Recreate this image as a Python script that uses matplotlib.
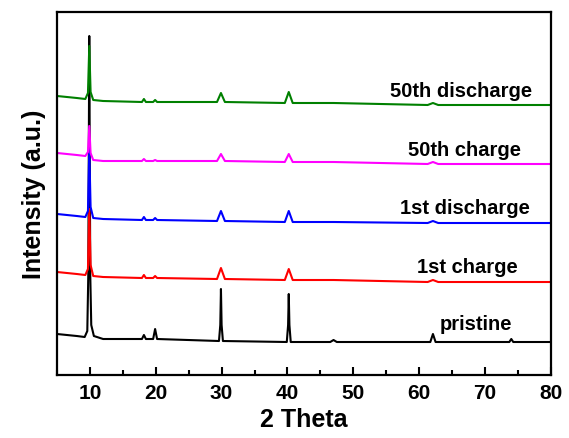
import numpy as np
import matplotlib
matplotlib.use('Agg')
import matplotlib.pyplot as plt
from matplotlib.ticker import MultipleLocator

plt.rcParams['font.family'] = ['Liberation Sans', 'DejaVu Sans']
plt.rcParams['font.weight'] = 'bold'

# XRD patterns (2 theta, stacked intensity in a.u.)
pristine_x = [5, 8, 9.2, 9.6, 9.75, 9.9, 10.05, 10.2, 10.6, 12, 17.9, 18.2, 18.5, 19.6, 19.9, 20.2,
              29.6, 29.8, 29.9, 30.0, 30.2, 39.9, 40.1, 40.2, 40.3, 40.5, 46.5, 47, 47.5,
              61.7, 62.1, 62.5, 73.7, 74.0, 74.3, 80]
pristine_y = [41, 39, 38, 44, 100, 339, 100, 50, 39, 36, 36, 40, 36, 36, 46, 36,
              34, 50, 86, 50, 34, 33, 50, 81, 50, 33, 33, 35, 33,
              33, 41, 33, 33, 36, 33, 33]

# the four cycled samples share the same sampling positions
cycled_x = [5, 8, 9.3, 9.7, 9.9, 10.1, 10.5, 12, 17.9, 18.2, 18.5, 19.6, 19.9, 20.2,
            29.3, 29.9, 30.5, 39.6, 40.2, 40.8, 47, 61.3, 62.1, 62.9, 80]
charge1_y = [103, 101, 100, 106, 166, 110, 99, 98, 97, 100, 97, 97, 99, 97,
             96, 107, 96, 95, 106, 95, 95, 93, 95, 93, 93]
discharge1_y = [161, 159, 158, 164, 226, 168, 157, 156, 155, 158, 155, 155, 157, 155,
                154, 164, 154, 153, 164, 153, 153, 152, 154, 152, 152]
charge50_y = [222, 220, 219, 223, 249, 222, 215, 214, 214, 216, 214, 214, 215, 214,
              214, 221, 214, 213, 221, 213, 213, 211, 213, 211, 211]
discharge50_y = [279, 277, 276, 282, 329, 283, 275, 274, 273, 276, 273, 273, 275, 273,
                 273, 282, 273, 272, 283, 272, 272, 270, 272, 270, 270]

series = [
    (pristine_x, pristine_y, 'k', 'pristine', 68.7, 46),
    (cycled_x, charge1_y, '#ff0000', '1st charge', 67.3, 103),
    (cycled_x, discharge1_y, '#0000ff', '1st discharge', 66.9, 162),
    (cycled_x, charge50_y, '#ff00ff', '50th charge', 66.9, 220),
    (cycled_x, discharge50_y, '#008000', '50th discharge', 66.4, 279),
]

fig = plt.figure(figsize=(5.69, 4.39), dpi=100)
ax = fig.add_axes([0.1002, 0.1435, 0.8678, 0.8269])

for xs, ys, c, name, tx, ty in series:
    ax.plot(xs, ys, color=c, lw=1.5)
    ax.text(tx, ty, name, ha='center', va='baseline', fontsize=14.5, fontweight='bold')

ax.set_xlim(5, 80)
ax.set_ylim(0, 363)
ax.xaxis.set_major_locator(MultipleLocator(10))
ax.xaxis.set_minor_locator(MultipleLocator(5))
ax.tick_params(axis='x', which='major', direction='in', length=6, width=1.5, labelsize=15, pad=6)
ax.tick_params(axis='x', which='minor', direction='in', length=3.5, width=1.5)
ax.set_yticks([])
for s in ax.spines.values():
    s.set_linewidth(1.6)
ax.set_xlabel('2 Theta', fontsize=18, fontweight='bold', labelpad=3)
ax.set_ylabel('Intensity (a.u.)', fontsize=18, fontweight='bold', labelpad=8)

fig.savefig('out.png', dpi=100)
